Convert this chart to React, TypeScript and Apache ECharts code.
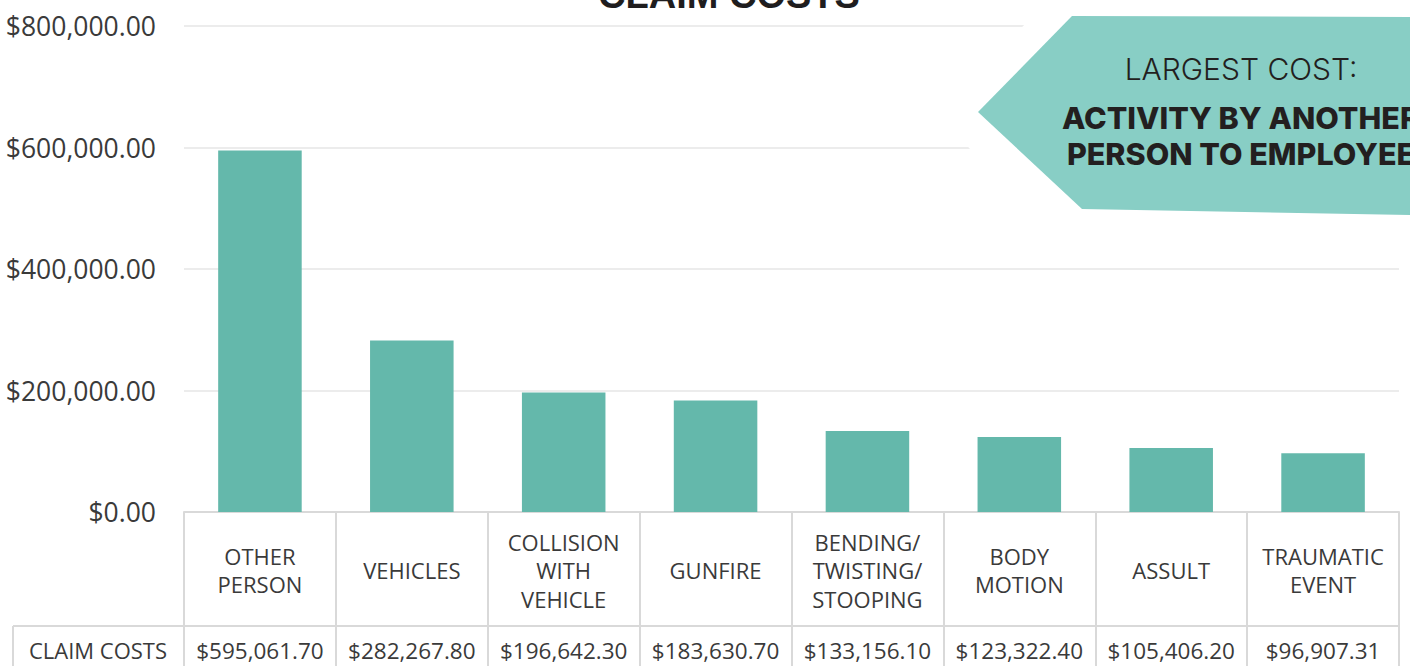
import React, { useEffect, useRef } from "react";
import * as echarts from "echarts";

const categories = [
  "OTHER\nPERSON",
  "VEHICLES",
  "COLLISION\nWITH\nVEHICLE",
  "GUNFIRE",
  "BENDING/\nTWISTING/\nSTOOPING",
  "BODY\nMOTION",
  "ASSULT",
  "TRAUMATIC\nEVENT",
];
const claimCosts = [595061.7, 282267.8, 196642.3, 183630.7, 133156.1, 123322.4, 105406.2, 96907.31];
const seriesName = "CLAIM COSTS";
const chartTitle = "CLAIM COSTS";
const calloutLabel = "LARGEST COST:";
const calloutValue = "ACTIVITY BY ANOTHER\nPERSON TO EMPLOYEE";

const money = (v: number) =>
  "$" + v.toLocaleString("en-US", { minimumFractionDigits: 2, maximumFractionDigits: 2 });

const BORDER = "#d9d9d9";
const TEXT = "#3a3a3a";
const FONT = "'Open Sans', 'Noto Sans', sans-serif";

export default function App() {
  const ref = useRef<HTMLDivElement>(null);
  useEffect(() => {
    if (!ref.current) return;
    const chart = echarts.init(ref.current, undefined, { renderer: "svg" });
    chart.setOption({
      animation: false,
      backgroundColor: "#ffffff",
      grid: { left: 184, right: 11, top: 26, bottom: 154, containLabel: false },
      xAxis: [
        {
          type: "category",
          data: categories,
          position: "bottom",
          axisLine: { show: true, lineStyle: { color: BORDER, width: 2 } },
          axisTick: { show: true, length: 160, lineStyle: { color: BORDER, width: 2 } },
          axisLabel: {
            interval: 0,
            margin: 58,
            verticalAlign: "middle",
            lineHeight: 28.5,
            fontFamily: FONT,
            fontSize: 22,
            color: TEXT,
          },
        },
        {
          type: "category",
          data: claimCosts.map(money),
          position: "bottom",
          offset: 114,
          axisLine: { show: true, lineStyle: { color: BORDER, width: 2 } },
          axisTick: { show: false },
          axisLabel: {
            interval: 0,
            margin: 24,
            verticalAlign: "middle",
            fontFamily: FONT,
            fontSize: 22.5,
            color: TEXT,
          },
        },
      ],
      yAxis: {
        type: "value",
        min: 0,
        max: 800000,
        interval: 200000,
        axisLine: { show: false },
        axisTick: { show: false },
        splitLine: { lineStyle: { color: "#ececec", width: 2 } },
        axisLabel: {
          formatter: (v: number) => money(v),
          margin: 28,
          fontFamily: FONT,
          fontSize: 26.5,
          color: TEXT,
        },
      },
      series: [
        {
          name: seriesName,
          type: "bar",
          xAxisIndex: 0,
          data: claimCosts,
          barWidth: "55%",
          itemStyle: { color: "#64b8ab" },
        },
      ],
      graphic: [
        {
          type: "line",
          shape: { x1: 13, y1: 626, x2: 184, y2: 626 },
          style: { stroke: BORDER, lineWidth: 2 },
        },
        {
          type: "line",
          shape: { x1: 13, y1: 626, x2: 13, y2: 700 },
          style: { stroke: BORDER, lineWidth: 2 },
        },
        {
          type: "text",
          x: 98,
          y: 650,
          style: {
            text: seriesName,
            align: "center",
            verticalAlign: "middle",
            font: `22px ${FONT}`,
            fill: TEXT,
          },
        },
        {
          type: "text",
          x: 729,
          y: -5,
          style: {
            text: chartTitle,
            align: "center",
            verticalAlign: "middle",
            font: `bold 38px 'Liberation Sans', Arial, sans-serif`,
            fill: "#1f1d1e",
          },
        },
        {
          type: "polygon",
          z: 10,
          shape: {
            points: [
              [938, 112],
              [1037, 12],
              [1410, 12],
              [1410, 230],
              [1040, 230],
            ],
          },
          style: { fill: "#ffffff" },
        },
        {
          type: "polygon",
          z: 11,
          shape: {
            points: [
              [978, 112],
              [1072, 16],
              [1410, 17],
              [1410, 215],
              [1082, 209],
            ],
          },
          style: { fill: "#88cec5" },
        },
        {
          type: "text",
          z: 12,
          x: 1241,
          y: 69,
          style: {
            text: calloutLabel,
            align: "center",
            verticalAlign: "middle",
            font: `300 30px Inter, sans-serif`,
            fill: "#231f20",
          },
        },
        {
          type: "text",
          z: 12,
          x: 1241,
          y: 135,
          style: {
            text: calloutValue,
            align: "center",
            verticalAlign: "middle",
            lineHeight: 36,
            font: `800 30.5px Inter, sans-serif`,
            fill: "#231f20",
          },
        },
      ],
    });
    return () => chart.dispose();
  }, []);
  return (
    <div
      ref={ref}
      style={{ position: "fixed", left: 0, top: 0, width: 1410, height: 666 }}
    />
  );
}
